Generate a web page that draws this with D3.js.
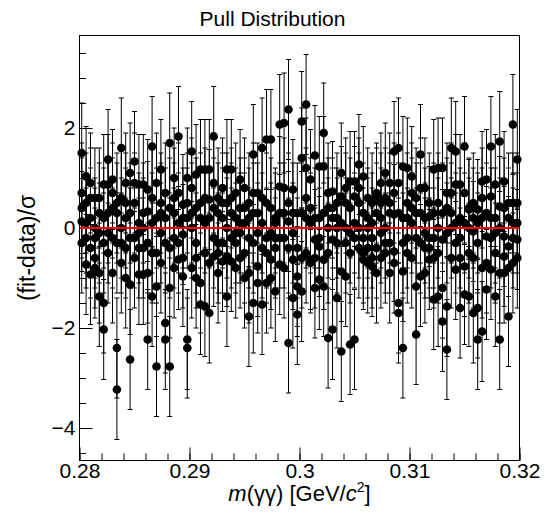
<!DOCTYPE html>
<html>
<head>
<meta charset="utf-8">
<script src="https://cdn.jsdelivr.net/npm/d3@7"></script>
<style>
  body { margin: 0; background: #fff; }
  svg { display: block; font-family: "Liberation Sans", Arial, Helvetica, sans-serif; }
</style>
</head>
<body>
<div id="vis_container"></div>
<script>
// binning of the m(gg) axis
var nBins = 100;
var xLo = 0.28, xHi = 0.32;

// pulls, several points per bin
var pullHigh = [1.5, 1.03, 0.9, 0.6, 0.6, 0.87, 1.37, 0.97, 0.5, 1.6, 0.9, 1.1, 1.33, 0.87,
    0.87, 0.77, 1.63, 0.9, 1.17, 0.7, 1.7, 1.0, 1.83, 0.47, 1.0, 1.53, 1.07, 1.17,
    1.17, 1.17, 1.83, 0.6, 0.8, 1.17, 1.17, 0.7, 0.97, 0.8, 0.5, 1.47, 0.7, 1.6, 1.77,
    1.77, 0.2, 2.07, 2.1, 2.37, 0.77, 0.3, 2.13, 2.47, 0.97, 1.45, 1.23, 1.9, 0.7,
    0.73, 0.5, 1.1, 0.8, 0.93, 0.93, 1.27, 1.03, 0.6, 0.5, 0.7, 0.9, 1.1, 0.9,
    1.53, 1.6, 1.23, 1.2, 1.03, 0.6, 1.47, 0.8, 0.5, 1.17, 1.2, 1.2, 0.7, 1.6, 1.53,
    0.87, 1.63, 0.37, 0.5, 0.37, 0.93, 0.97, 1.63, 0.87, 1.73, 0.93, 0.5, 2.07, 1.37];

var pullMidA = [0.7, 0.5, 0.2, 0.0, -0.1, -0.3, 0.87, 0.4, -0.3, 0.6, 0.2, 0.3, 0.5, 0.1,
    0.3, 0.33, 0.6, 0.2, 0.5, -0.3, 0.4, 0.3, 0.7, -0.13, 0.2, 0.8, 0.4, 0.2,
    0.6, 0.57, 0.4, 0.3, 0.2, 0.5, 0.3, 0.2, 0.4, 0.1, -0.2, 0.3, -0.1, 0.6, 0.5,
    -0.1, 0.1, 0.83, 0.3, 0.5, -0.1, -0.97, 1.4, 1.2, 0.1, -0.23, 0.2, 1.23, 0.0,
    0.2, 0.0, 0.63, 0.5, 0.4, 0.63, 0.5, 0.3, 0.2, 0.1, 0.3, 0.5, 0.6, 0.3,
    0.27, 0.9, 0.2, 0.5, 0.7, -0.2, 0.3, 0.2, 0.23, 0.3, 0.0, -0.23, -0.1, 0.7, 0.87,
    0.2, 0.7, 0.0, -0.07, 0.1, 0.2, -0.17, 0.63, 0.2, 0.43, -0.17, -0.37, 0.5, 0.1];

var pullMidC = [0.4, 0.1, 0.6, -0.2, 0.3, 0.2, -0.1, 0.7, 0.3, -0.3, 0.5, -0.2, 0.9, -0.1,
    0.0, -0.3, 0.1, -0.5, 0.3, 0.2, -0.4, 0.6, -0.3, 0.2, 0.5, 0.3, -0.6, 0.5,
    0.1, 0.2, 0.9, -0.5, 0.5, 0.0, 0.6, -0.1, 0.1, 0.4, 0.2, 0.7, 0.3, 0.1, -0.5,
    0.4, -0.2, 0.3, 0.8, -0.4, 0.3, -0.4, -0.6, 0.6, 0.4, 0.2, -0.2, 0.3, 0.4,
    0.4, 0.2, 0.1, 0.0, -0.1, 0.1, 0.8, -0.5, 0.0, -0.2, 0.6, 0.2, -0.3, 0.5,
    0.7, 0.3, -0.3, -0.2, 0.4, 0.3, 0.8, -0.1, -0.4, -0.2, 0.5, 0.3, 0.4, 0.3, 0.1,
    -0.2, 0.1, 0.4, 0.2, -0.3, 0.6, 0.3, 0.2, -0.1, 0.0, 0.4, 0.2, 0.1, 0.5];

var pullMidB = [0.13, -0.2, -0.4, -0.6, -0.9, -1.5, 0.3, -0.2, -2.4, 0.0, -0.4, -1.13, -0.2, -0.4,
    -0.4, -0.9, -0.5, -1.17, -0.1, -1.9, -1.2, -0.2, 0.1, -0.6, -2.23, 0.0, -0.3, -1.1,
    -0.5, -0.7, -0.2, -0.3, -0.3, -0.57, -0.2, -0.3, -0.1, -0.5, -0.9, -0.3, -0.77, -0.4, -0.2,
    -0.63, -0.4, -0.2, -0.2, 0.13, -0.63, -1.17, 0.3, 0.2, -0.63, -0.6, -0.37, -0.63, -0.5,
    -0.23, -0.3, -0.87, -0.3, -0.5, -0.2, 0.0, -0.2, -0.4, -0.6, -0.4, -0.1, 0.0, -0.3,
    -0.47, -1.5, -0.87, 0.2, 0.1, -1.17, -0.3, -0.4, -0.2, -0.6, -0.5, -1.2, -1.57, 0.0, -0.3,
    -0.6, -0.77, -0.5, -0.6, -1.6, -0.8, -0.7, -0.2, -0.5, -0.9, -0.57, -0.8, -0.2, -0.23];

var pullLow = [-0.3, -0.73, -0.93, -0.8, -1.37, -2.03, -0.5, -0.9, -3.23, -0.7, -1.0, -2.63, -0.6, -0.93,
    -0.93, -2.23, -1.37, -2.77, -0.7, -2.23, -2.77, -0.8, -0.63, -0.97, -2.4, -0.8, -1.0, -1.53,
    -1.57, -1.7, -0.57, -0.9, -0.67, -1.37, -0.67, -0.8, -0.6, -1.0, -1.77, -1.5, -1.1, -1.53, -1.1,
    -1.0, -1.27, -0.73, -0.8, -2.3, -1.4, -1.73, -1.27, -0.5, -0.7, -1.2, -1.03, -1.17, -2.2,
    -2.03, -1.4, -2.47, -0.97, -2.33, -2.23, -0.4, -0.63, -0.7, -0.77, -0.9, -0.6, -0.5, -0.9,
    -0.7, -1.7, -2.4, -0.5, -0.6, -2.13, -0.97, -0.9, -0.63, -1.43, -1.37, -1.87, -2.43, -0.6, -0.83,
    -1.6, -1.33, -1.37, -1.7, -2.23, -2.07, -1.23, -0.83, -1.37, -2.23, -0.9, -1.77, -0.7, -0.6];

// every pull has unit error
var pullErr = 1.0;

var xTicks = [0.28, 0.29, 0.30, 0.31, 0.32];
var yTicks = [-4, -2, 0, 2];

var width = 545, height = 518;
var frame = {left: 79.5, right: 519.5, top: 35.5, bottom: 460.5};

var x = d3.scaleLinear().domain([xLo, xHi]).range([frame.left, frame.right]);
var y = d3.scaleLinear().domain([-4.65, 3.85]).range([frame.bottom, frame.top]);

var binWidth = (xHi - xLo) / nBins;
var points = [];
[pullHigh, pullMidA, pullMidC, pullMidB, pullLow].forEach(function(series) {
    series.forEach(function(v, i) {
        points.push({m: xLo + (i + 0.5) * binWidth, pull: v, err: pullErr});
    });
});

var svg = d3.select("#vis_container").append("svg")
    .attr("width", width)
    .attr("height", height);

// title
svg.append("text")
    .attr("x", width / 2)
    .attr("y", 26)
    .attr("text-anchor", "middle")
    .style("font-size", "21px")
    .text("Pull Distribution");

// x axis: major + minor ticks pointing inside
svg.append("g")
    .attr("transform", "translate(0," + frame.bottom + ")")
    .call(d3.axisBottom(x).tickValues(d3.range(0.28, 0.3201, 0.002)).tickSize(-7).tickFormat(""))
    .call(function(g) { g.select(".domain").remove(); });

svg.append("g")
    .attr("class", "xaxis")
    .attr("transform", "translate(0," + frame.bottom + ")")
    .call(d3.axisBottom(x).tickValues(xTicks).tickSizeInner(-13).tickSizeOuter(0).tickPadding(3)
        .tickFormat(function(d) { return String(+d.toFixed(2)); }))
    .call(function(g) { g.select(".domain").remove(); });

// y axis
svg.append("g")
    .attr("transform", "translate(" + frame.left + ",0)")
    .call(d3.axisLeft(y).tickValues(d3.range(-4.5, 3.51, 0.5)).tickSize(-6.5).tickFormat(""))
    .call(function(g) { g.select(".domain").remove(); });

svg.append("g")
    .attr("class", "yaxis")
    .attr("transform", "translate(" + frame.left + ",0)")
    .call(d3.axisLeft(y).tickValues(yTicks).tickSizeInner(-13).tickSizeOuter(0).tickPadding(4)
        .tickFormat(function(d) { return d < 0 ? "\u2212" + Math.abs(d) : String(d); }))
    .call(function(g) { g.select(".domain").remove(); });

svg.selectAll(".tick line").attr("stroke", "#000");
svg.selectAll(".xaxis text, .yaxis text")
    .attr("fill", "#000")
    .style("font-size", "21px")
    .style("font-family", "'Liberation Sans', Arial, sans-serif");

// axis titles
var xt = svg.append("text")
    .attr("x", (frame.left + frame.right) / 2)
    .attr("y", 501)
    .attr("text-anchor", "middle")
    .style("font-size", "22px");
xt.append("tspan").style("font-style", "italic").text("m");
xt.append("tspan").text("(\u03b3\u03b3) [GeV/");
xt.append("tspan").style("font-style", "italic").text("c");
xt.append("tspan").attr("dy", -9).style("font-size", "14px").text("2");
xt.append("tspan").attr("dy", 9).text("]");

svg.append("text")
    .attr("transform", "translate(35," + (frame.top + frame.bottom) / 2 + ") rotate(-90)")
    .attr("text-anchor", "middle")
    .style("font-size", "23px")
    .text("(fit-data)/\u03c3");

// error bars
var bars = svg.append("g").attr("stroke", "#000").attr("stroke-width", 1);
points.forEach(function(d) {
    var px = x(d.m);
    var y1 = y(d.pull + d.err), y0 = y(d.pull - d.err);
    bars.append("line").attr("x1", px).attr("x2", px).attr("y1", y1).attr("y2", y0);
    bars.append("line").attr("x1", px - 2.5).attr("x2", px + 2.5).attr("y1", y1).attr("y2", y1);
    bars.append("line").attr("x1", px - 2.5).attr("x2", px + 2.5).attr("y1", y0).attr("y2", y0);
});

// markers
svg.append("g").selectAll("circle")
    .data(points)
    .enter().append("circle")
    .attr("cx", function(d) { return x(d.m); })
    .attr("cy", function(d) { return y(d.pull); })
    .attr("r", 4.3)
    .attr("fill", "#000");

// zero line
svg.append("line")
    .attr("x1", frame.left).attr("x2", frame.right)
    .attr("y1", y(0)).attr("y2", y(0))
    .attr("stroke", "#ff0000")
    .attr("stroke-width", 2);

// frame
svg.append("rect")
    .attr("x", frame.left).attr("y", frame.top)
    .attr("width", frame.right - frame.left)
    .attr("height", frame.bottom - frame.top)
    .attr("fill", "none")
    .attr("stroke", "#000");
</script>
</body>
</html>
